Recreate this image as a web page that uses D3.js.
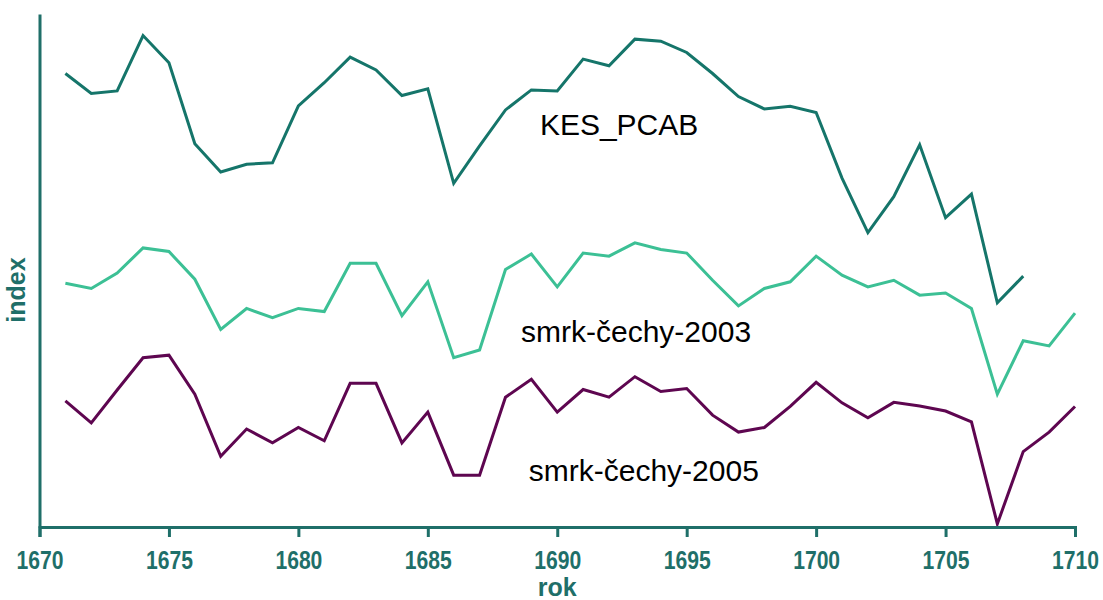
<!DOCTYPE html>
<html>
<head>
<meta charset="utf-8">
<script src="https://cdn.jsdelivr.net/npm/d3@7"></script>
<style>
  body { margin: 0; background: #fff; }
</style>
</head>
<body>
<div class="chart"></div>
<script>
var svgWidth = 1103;
var svgHeight = 600;

// years shown on the x axis
var xTicks = [1670, 1675, 1680, 1685, 1690, 1695, 1700, 1705, 1710];

// KES_PCAB, 1671-1708
var kesYears = d3.range(1671, 1709);
var kesValues = [88.4, 84.5, 85.0, 95.8, 90.5, 74.7, 69.2, 70.7, 71.0, 82.1,
  86.6, 91.6, 89.1, 84.1, 85.4, 67.0, 74.3, 81.3, 85.2, 85.0,
  91.2, 89.9, 95.1, 94.7, 92.5, 88.4, 83.9, 81.5, 82.0, 80.8,
  68.0, 57.4, 64.4, 74.5, 60.3, 64.9, 43.7, 48.9];

// smrk-čechy-2003, 1671-1710
var s2003Years = d3.range(1671, 1711);
var s2003Values = [47.5, 46.5, 49.5, 54.4, 53.7, 48.3, 38.5, 42.6, 40.8, 42.6,
  42.0, 51.4, 51.4, 41.2, 47.8, 33.0, 34.5, 50.2, 53.2, 46.8,
  53.4, 52.8, 55.4, 54.1, 53.4, 48.1, 43.1, 46.5, 47.8, 52.8,
  49.1, 46.8, 48.1, 45.2, 45.6, 42.6, 25.9, 36.3, 35.3, 41.7];

// smrk-čechy-2005, 1671-1710
var s2005Years = d3.range(1671, 1711);
var s2005Values = [24.6, 20.3, 26.7, 33.0, 33.5, 25.9, 13.8, 19.1, 16.4, 19.4,
  16.8, 28.0, 28.0, 16.4, 22.4, 10.1, 10.1, 25.3, 28.8, 22.4,
  26.8, 25.3, 29.3, 26.4, 27.0, 21.8, 18.5, 19.4, 23.5, 28.2,
  24.2, 21.3, 24.3, 23.6, 22.6, 20.5, 0.6, 14.7, 18.5, 23.5];

// series names and where their labels sit (year, index)
var seriesNames = ["KES_PCAB", "smrk-čechy-2003", "smrk-čechy-2005"];
var labelYears = [1689.33, 1688.6, 1688.9];
var labelValues = [76.4, 36.1, 9.0];

var colors = ["#15756a", "#3cc095", "#5e0650"];
var axisColor = "#1f6f69";
var font = "'Liberation Sans', Arial, sans-serif";

var series = [
  { years: kesYears, values: kesValues },
  { years: s2003Years, values: s2003Values },
  { years: s2005Years, values: s2005Values }
];

var svg = d3.select(".chart")
  .append("svg")
  .attr("width", svgWidth)
  .attr("height", svgHeight);

var xScale = d3.scaleLinear().domain([1670, 1710]).range([39.5, 1075]);
var yScale = d3.scaleLinear().domain([0, 100]).range([527, 14]);

var line = d3.line()
  .x(function(d) { return xScale(d[0]); })
  .y(function(d) { return yScale(d[1]); });

series.forEach(function(s, i) {
  var pts = s.years.map(function(yr, j) { return [yr, s.values[j]]; });
  svg.append("path")
    .datum(pts)
    .attr("fill", "none")
    .attr("stroke", colors[i])
    .attr("stroke-width", 3)
    .attr("d", line);
});

// x axis
var bottomAxis = d3.axisBottom(xScale)
  .tickValues(xTicks)
  .tickFormat(d3.format("d"))
  .tickSizeOuter(0)
  .tickSize(10)
  .tickPadding(14);

var xAxisG = svg.append("g")
  .attr("transform", "translate(0," + yScale(0) + ")")
  .call(bottomAxis);
xAxisG.select(".domain").attr("stroke", axisColor).attr("stroke-width", 3);
xAxisG.selectAll(".tick line").attr("stroke", axisColor).attr("stroke-width", 3);
// tick labels are a narrow bold face: squeeze them horizontally
xAxisG.selectAll(".tick text")
  .attr("fill", axisColor)
  .attr("font-family", font)
  .attr("font-weight", "bold")
  .attr("font-size", "25px")
  .attr("transform", "scale(0.845,1)");

// y axis, no ticks
var leftAxis = d3.axisLeft(yScale).tickValues([]).tickSizeOuter(0);
var yAxisG = svg.append("g")
  .attr("transform", "translate(" + xScale(1670) + ",0)")
  .call(leftAxis);
yAxisG.select(".domain").attr("stroke", axisColor).attr("stroke-width", 3);

// series labels
seriesNames.forEach(function(name, i) {
  svg.append("text")
    .attr("x", xScale(labelYears[i]))
    .attr("y", yScale(labelValues[i]))
    .attr("font-family", font)
    .attr("font-size", "30px")
    .attr("fill", "#000")
    .text(name);
});

// axis titles
svg.append("text")
  .attr("x", (xScale(1670) + xScale(1710)) / 2)
  .attr("y", 596)
  .attr("text-anchor", "middle")
  .attr("font-family", font)
  .attr("font-weight", "bold")
  .attr("font-size", "25px")
  .attr("fill", axisColor)
  .text("rok");

svg.append("text")
  .attr("transform", "translate(25,290) rotate(-90)")
  .attr("text-anchor", "middle")
  .attr("font-family", font)
  .attr("font-weight", "bold")
  .attr("font-size", "25px")
  .attr("fill", axisColor)
  .text("index");
</script>
</body>
</html>
